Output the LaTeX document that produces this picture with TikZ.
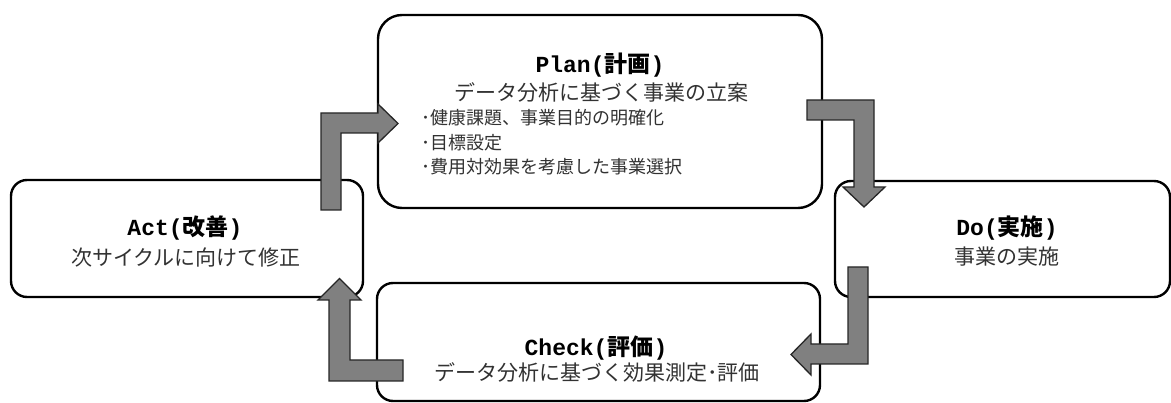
\documentclass[tikz,border=0pt]{standalone}
\usepackage{fontspec}
\setmainfont{Noto Sans CJK JP}
\newfontfamily\latinfont{Liberation Mono}
\definecolor{arrowgray}{RGB}{128,128,128}
\definecolor{subgray}{RGB}{50,50,50}
\begin{document}
\begin{tikzpicture}[x=1pt,y=-1pt,
  box/.style={draw=black, line width=2.4pt, fill=white, rounded corners=16pt, inner sep=0pt, outer sep=0pt},
  blockarrow/.style={draw=black!85, line width=1.3pt, fill=arrowgray, line join=miter},
  titletext/.style={font=\fontsize{23}{27}\selectfont\bfseries, inner sep=0pt},
  subtext/.style={font=\fontsize{21}{25}\selectfont, text=subgray, inner sep=0pt},
  bullettext/.style={font=\fontsize{18}{22}\selectfont, text=subgray, inner sep=0pt, anchor=west},
]
\useasboundingbox (0,0) rectangle (1171,403);

% boxes
\node[box, minimum width=444pt, minimum height=193pt, rounded corners=24pt] (plan) at (600,111.5) {};
\node[box, minimum width=335pt, minimum height=116pt] (do) at (1002.5,239) {};
\node[box, minimum width=352pt, minimum height=117pt] (act) at (187,238.5) {};
\node[box, minimum width=443pt, minimum height=118pt] (check) at (598.5,342) {};

% block arrows
% Act -> Plan
\draw[blockarrow] (321,210) -- (321,113) -- (378,113) -- (378,104) -- (398,123.5)
  -- (378,143) -- (378,133) -- (341,133) -- (341,210) -- cycle;
% Plan -> Do
\draw[blockarrow] (807,100) -- (874,100) -- (874,187) -- (885,187) -- (864,207)
  -- (843,187) -- (854,187) -- (854,120) -- (807,120) -- cycle;
% Do -> Check
\draw[blockarrow] (848,267) -- (868,267) -- (868,364) -- (811,364) -- (811,375)
  -- (791,354.5) -- (811,334) -- (811,344) -- (848,344) -- cycle;
% Check -> Act
\draw[blockarrow] (403,381) -- (329,381) -- (329,300) -- (318,300) -- (339.5,278.5)
  -- (361,300) -- (350,300) -- (350,360) -- (403,360) -- cycle;

% texts
\node[titletext] (plantitle) at (600,65) {{\latinfont Plan(}計画{\latinfont )}};
\node[subtext] (plansub) at (601,92) {データ分析に基づく事業の立案};
\node[bullettext] (planb1) at (421,118) {･健康課題、事業目的の明確化};
\node[bullettext] (planb2) at (421,143) {･目標設定};
\node[bullettext] (planb3) at (421,167) {･費用対効果を考慮した事業選択};

\node[titletext] (dotitle) at (1007,228) {{\latinfont Do(}実施{\latinfont )}};
\node[subtext] (dosub) at (1007,257) {事業の実施};

\node[titletext] (acttitle) at (185,228) {{\latinfont Act(}改善{\latinfont )}};
\node[subtext] (actsub) at (186,258) {次サイクルに向けて修正};

\node[titletext] (checktitle) at (596,348) {{\latinfont Check(}評価{\latinfont )}};
\node[subtext] (checksub) at (597,372) {データ分析に基づく効果測定･評価};
\end{tikzpicture}
\end{document}
